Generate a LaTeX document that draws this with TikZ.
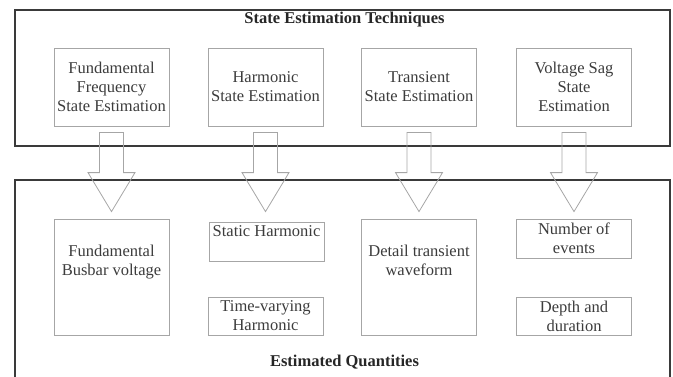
\documentclass[tikz,border=0pt]{standalone}
\usepackage{fontspec}
\setmainfont{Liberation Serif}
\usepackage{xcolor}
\usetikzlibrary{calc}
\usetikzlibrary{positioning}
\definecolor{framegray}{HTML}{3A3A3A}
\definecolor{boxgray}{HTML}{A6A6A6}
\definecolor{textgray}{HTML}{3C3C3C}

\begin{document}
\begin{tikzpicture}[x=1pt,y=-1pt,
every node/.style={font=\fontsize{16.5}{19}\selectfont, text=textgray, align=center, inner sep=0pt},
frame/.style={draw=framegray, line width=2pt},
techbox/.style={draw=boxgray, line width=0.8pt, minimum width=115pt, minimum height=78pt},
qbox/.style={draw=boxgray, line width=0.8pt, minimum width=115pt},
blockarrow/.style={draw=boxgray, line width=0.8pt, line join=miter},
title/.style={font=\fontsize{16.5}{19}\selectfont\bfseries, text=black!85}]
\useasboundingbox (0,0) rectangle (673,376);
\draw[frame] (15,10) rectangle (669.5,146);
\draw[frame] (15,382) -- (15,180) -- (669.5,180) -- (669.5,382);
\node[title] (techtitle) at (344.5,20) {State Estimation Techniques};
\node[title] (quanttitle) at (344.5,362) {Estimated Quantities};
\node[techbox] (ffse) at (111.5,87) {Fundamental\\Frequency\\State Estimation};
\node[techbox] (hse) at (265.5,87) {Harmonic\\State Estimation};
\node[techbox] (tse) at (419,87) {Transient\\State Estimation};
\node[techbox] (vsse) at (574,87) {Voltage Sag\\State\\Estimation};
\node[qbox, minimum height=116pt] (fbv) at (111.5,277) {};
\node[below=26pt of fbv.north] (fbvtext) {Fundamental\\Busbar voltage};
\node[qbox, minimum height=39pt] (sth) at (266.5,241.5) {};
\node[below=4pt of sth.north] (sthtext) {Static Harmonic};
\node[qbox, minimum height=38pt] (tvh) at (265.5,316) {Time-varying\\Harmonic};
\node[qbox, minimum height=116pt] (dtw) at (419,277) {};
\node[below=26pt of dtw.north] (dtwtext) {Detail transient\\waveform};
\node[qbox, minimum height=39pt] (noe) at (574,238.5) {Number of\\events};
\node[qbox, minimum height=38pt] (dad) at (574,316) {Depth and\\duration};
\draw[blockarrow] let \p1=(ffse.south), \p2=(fbv.north) in
(\x1-12pt,\y1-6pt) -- (\x1+12pt,\y1-6pt) -- (\x1+12pt,\y2+46pt) -- (\x1+23.5pt,\y2+46pt)
-- (\x1,\y2+7pt) -- (\x1-23.5pt,\y2+46pt) -- (\x1-12pt,\y2+46pt) -- cycle;
\draw[blockarrow] let \p1=(hse.south), \p2=(fbv.north) in
(\x1-12pt,\y1-6pt) -- (\x1+12pt,\y1-6pt) -- (\x1+12pt,\y2+46pt) -- (\x1+23.5pt,\y2+46pt)
-- (\x1,\y2+7pt) -- (\x1-23.5pt,\y2+46pt) -- (\x1-12pt,\y2+46pt) -- cycle;
\draw[blockarrow] let \p1=(tse.south), \p2=(dtw.north) in
(\x1-12pt,\y1-6pt) -- (\x1+12pt,\y1-6pt) -- (\x1+12pt,\y2+46pt) -- (\x1+23.5pt,\y2+46pt)
-- (\x1,\y2+7pt) -- (\x1-23.5pt,\y2+46pt) -- (\x1-12pt,\y2+46pt) -- cycle;
\draw[blockarrow] let \p1=(vsse.south), \p2=(noe.north) in
(\x1-12pt,\y1-6pt) -- (\x1+12pt,\y1-6pt) -- (\x1+12pt,\y2+46pt) -- (\x1+23.5pt,\y2+46pt)
-- (\x1,\y2+7pt) -- (\x1-23.5pt,\y2+46pt) -- (\x1-12pt,\y2+46pt) -- cycle;
\end{tikzpicture}
\end{document}
